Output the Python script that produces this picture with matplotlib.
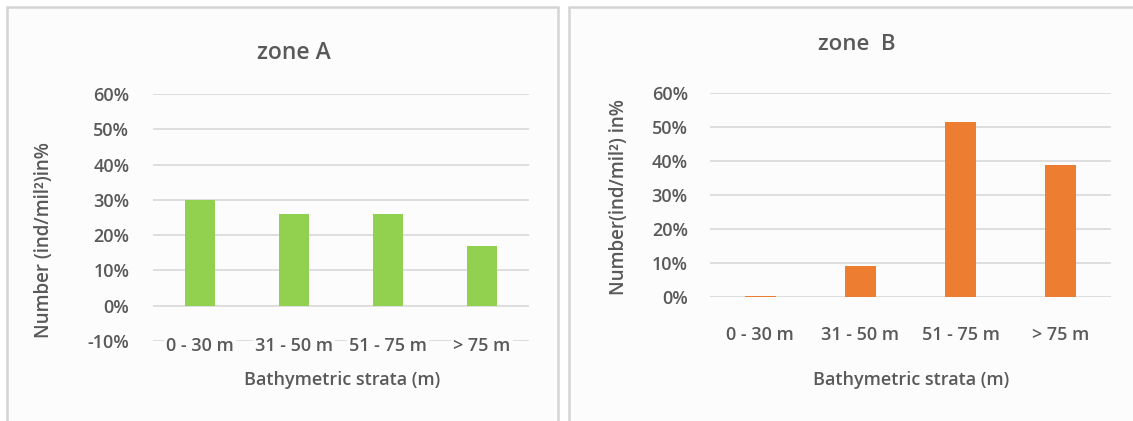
import matplotlib
matplotlib.use("Agg")
import matplotlib.pyplot as plt
from matplotlib.patches import Rectangle
from matplotlib.ticker import PercentFormatter

plt.rcParams['font.family'] = ['Open Sans', 'DejaVu Sans']
plt.rcParams['axes.unicode_minus'] = False

categories = ["0 - 30 m", "31 - 50 m", "51 - 75 m", "> 75 m"]
zone_a = [30.0, 26.1, 25.9, 16.9]
zone_b = [0.5, 9.2, 51.4, 38.9]
yticks_a = [-10, 0, 10, 20, 30, 40, 50, 60]
yticks_b = [0, 10, 20, 30, 40, 50, 60]

W, H = 1133, 421
fig = plt.figure(figsize=(W / 100, H / 100), dpi=100)
fig.patch.set_facecolor('white')

TXT = '#595959'
GRID = '#d9d9d9'
PANEL = '#fcfcfc'
FS = 13

def px_rect(x0, y0, x1, y1):
    return [x0 / W, 1 - y1 / H, (x1 - x0) / W, (y1 - y0) / H]

# panel backgrounds with borders
for (x0, x1) in [(7, 558), (569, 1140)]:
    fig.patches.append(Rectangle((x0 / W, -0.1), (x1 - x0) / W, 1.1 - 7 / H,
                                 transform=fig.transFigure, facecolor=PANEL,
                                 edgecolor='#d4d4d4', linewidth=1.8, zorder=-10))

def style(ax, ticks, ymin, values, color, tick_pad_y, tick_pad_x):
    x = range(len(categories))
    ax.bar(x, values, width=0.31, color=color, zorder=3)
    ax.set_xlim(-0.5, len(categories) - 0.5)
    ax.set_ylim(ymin, 60)
    ax.set_yticks(ticks)
    ax.yaxis.set_major_formatter(PercentFormatter(decimals=0))
    ax.set_xticks(list(x))
    ax.set_xticklabels(categories)
    ax.set_facecolor('none')
    for s in ax.spines.values():
        s.set_visible(False)
    ax.grid(axis='y', color=GRID, linewidth=1.2, zorder=0)
    ax.set_axisbelow(True)
    ax.xaxis.set_zorder(5)
    ax.tick_params(axis='both', length=0, colors=TXT, labelsize=FS)
    ax.tick_params(axis='y', pad=tick_pad_y)
    ax.tick_params(axis='x', pad=tick_pad_x)
    for lab in ax.get_xticklabels() + ax.get_yticklabels():
        lab.set_fontweight('semibold')
    for lab in ax.get_xticklabels():
        lab.set_bbox(dict(facecolor=PANEL, edgecolor='none', pad=1.5))

axA = fig.add_axes(px_rect(153, 94, 529, 341))
style(axA, yticks_a, -10, zone_a, '#92d050', 17, -3)
axB = fig.add_axes(px_rect(710, 92.7, 1111, 297.3))
style(axB, yticks_b, 0, zone_b, '#ed7d31', 16, 21)

fig.text(294 / W, 1 - 53 / H, "zone A", ha='center', va='center', fontsize=16.5,
         color=TXT, fontweight='semibold')
fig.text(857 / W, 1 - 45 / H, "zone  B", ha='center', va='center', fontsize=16,
         color=TXT, fontweight='semibold')
fig.text(342 / W, 1 - 380 / H, "Bathymetric strata (m)", ha='center', va='center',
         fontsize=FS, color=TXT, fontweight='semibold')
fig.text(911 / W, 1 - 380 / H, "Bathymetric strata (m)", ha='center', va='center',
         fontsize=FS, color=TXT, fontweight='semibold')
fig.text(44 / W, 1 - 240 / H, "Number (ind/mil²)in%", ha='center', va='center',
         rotation=90, fontsize=13.5, color=TXT, fontweight='semibold')
fig.text(619 / W, 1 - 197 / H, "Number(ind/mil²) in%", ha='center', va='center',
         rotation=90, fontsize=13.5, color=TXT, fontweight='semibold')

fig.savefig("out.png", dpi=100, facecolor='white')
